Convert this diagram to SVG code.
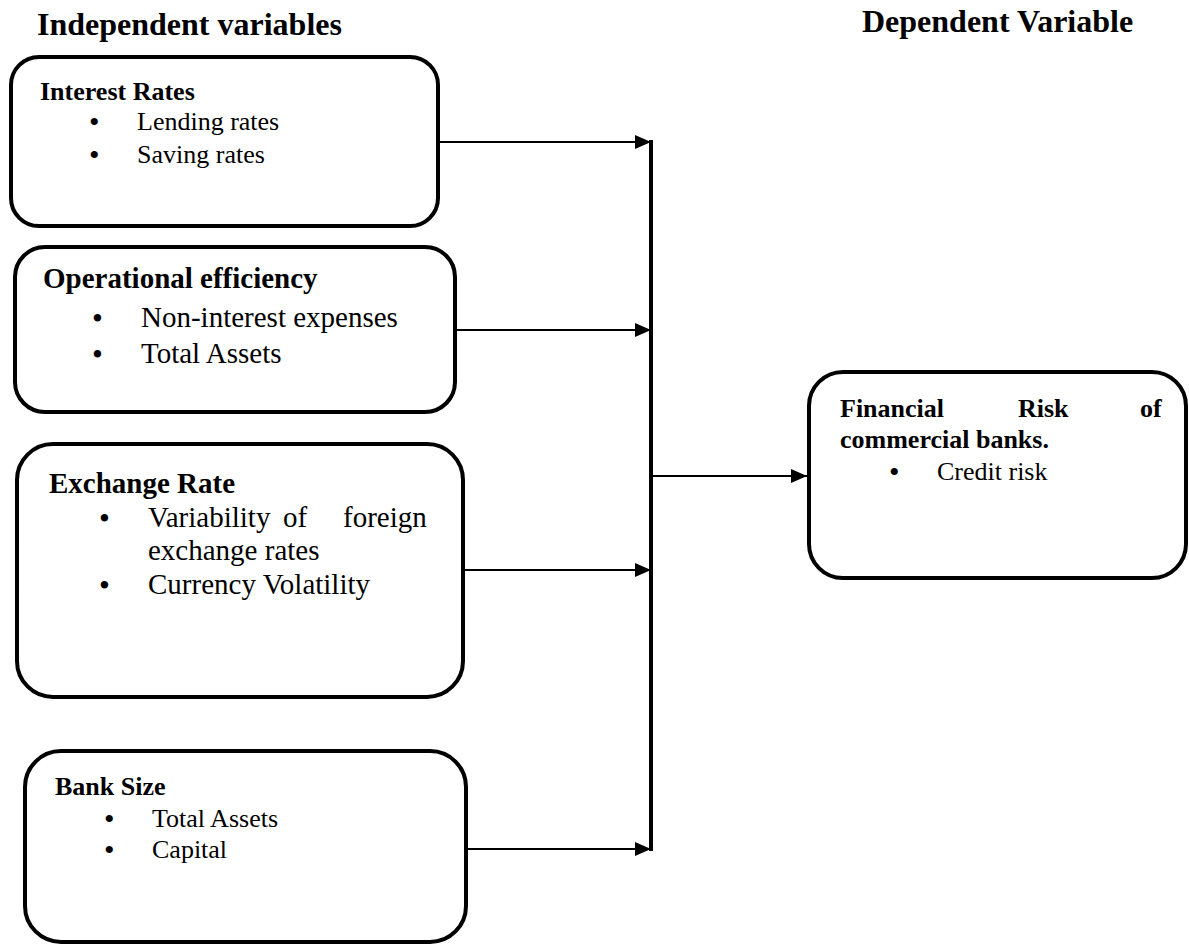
<svg xmlns="http://www.w3.org/2000/svg" width="1189" height="945" viewBox="0 0 1189 945">
<defs>
<style>
.box{fill:#fff;stroke:#000;stroke-width:4}
.h{font-family:"Liberation Serif","Times New Roman",serif;font-weight:bold;fill:#000}
.t{font-family:"Liberation Serif","Times New Roman",serif;fill:#000}
.c{stroke:#000;stroke-width:2;fill:none}
.bar{stroke:#000;stroke-width:4;fill:none}
</style>
<marker id="ah" markerWidth="16" markerHeight="14" refX="16" refY="7" orient="auto" markerUnits="userSpaceOnUse">
<path d="M0,0 L16,7 L0,14 Z" fill="#000"/>
</marker>
</defs>
<rect width="1189" height="945" fill="#fff"/>
<text class="h" x="37" y="35" font-size="32">Independent variables</text>
<text class="h" x="862" y="32" font-size="32">Dependent Variable</text>

<g id="connectors">
<line class="bar" x1="651" y1="140" x2="651" y2="851"/>
<line class="c" x1="440" y1="142" x2="651" y2="142" marker-end="url(#ah)"/>
<line class="c" x1="455" y1="330" x2="651" y2="330" marker-end="url(#ah)"/>
<line class="c" x1="463" y1="570" x2="651" y2="570" marker-end="url(#ah)"/>
<line class="c" x1="467" y1="849" x2="651" y2="849" marker-end="url(#ah)"/>
<line class="c" x1="651" y1="476" x2="807" y2="476" marker-end="url(#ah)"/>
</g>

<g id="interest-rates">
<rect class="box" x="11" y="57" width="427" height="169" rx="28"/>
<text class="h" x="40" y="100" font-size="26">Interest Rates</text>
<text class="t" y="130" font-size="26"><tspan x="89" font-size="30" dy="2">•</tspan><tspan x="137" dy="-2">Lending rates</tspan></text>
<text class="t" y="163" font-size="26"><tspan x="89" font-size="30" dy="2">•</tspan><tspan x="137" dy="-2">Saving rates</tspan></text>
</g>

<g id="operational-efficiency">
<rect class="box" x="15" y="247" width="440" height="165" rx="30"/>
<text class="h" x="43" y="288" font-size="29">Operational efficiency</text>
<text class="t" y="327" font-size="29"><tspan x="92" font-size="31" dy="2">•</tspan><tspan x="141" dy="-2">Non-interest expenses</tspan></text>
<text class="t" y="363" font-size="29"><tspan x="92" font-size="31" dy="2">•</tspan><tspan x="141" dy="-2">Total Assets</tspan></text>
</g>

<g id="exchange-rate">
<rect class="box" x="17" y="444" width="446" height="253" rx="36"/>
<text class="h" x="49" y="493" font-size="29">Exchange Rate</text>
<text class="t" y="527" font-size="29"><tspan x="99" font-size="31" dy="2">•</tspan><tspan x="148" dy="-2">Variability</tspan><tspan x="283">of</tspan><tspan x="343">foreign</tspan></text>
<text class="t" x="148" y="560" font-size="29">exchange rates</text>
<text class="t" y="594" font-size="29"><tspan x="99" font-size="31" dy="2">•</tspan><tspan x="148" dy="-2">Currency Volatility</tspan></text>
</g>

<g id="bank-size">
<rect class="box" x="25" y="751" width="441" height="191" rx="36"/>
<text class="h" x="55" y="795" font-size="26">Bank Size</text>
<text class="t" y="827" font-size="26"><tspan x="104" font-size="30" dy="2">•</tspan><tspan x="152" dy="-2">Total Assets</tspan></text>
<text class="t" y="858" font-size="26"><tspan x="104" font-size="30" dy="2">•</tspan><tspan x="152" dy="-2">Capital</tspan></text>
</g>

<g id="financial-risk">
<rect class="box" x="809" y="372" width="377" height="206" rx="34"/>
<text class="h" x="840" y="417" font-size="26">Financial</text>
<text class="h" x="1018" y="417" font-size="26">Risk</text>
<text class="h" x="1140" y="417" font-size="26">of</text>
<text class="h" x="840" y="448" font-size="26">commercial banks.</text>
<text class="t" y="480" font-size="26"><tspan x="889" font-size="30" dy="2">•</tspan><tspan x="937" dy="-2">Credit risk</tspan></text>
</g>
</svg>
